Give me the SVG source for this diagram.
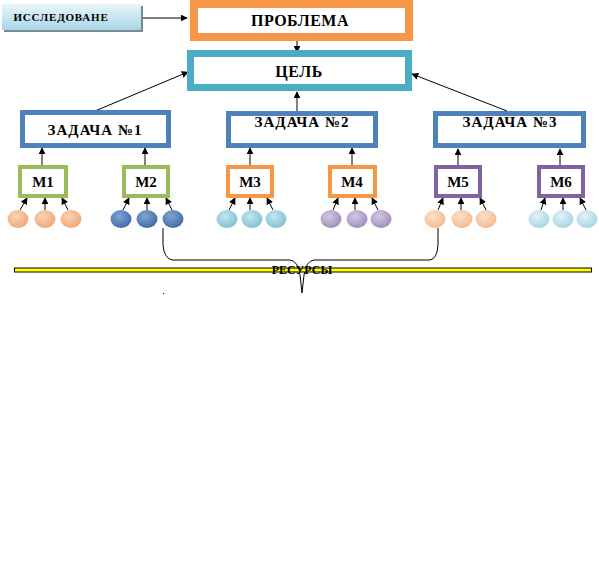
<svg xmlns="http://www.w3.org/2000/svg" width="599" height="571" viewBox="0 0 599 571">
<defs>
<style>
text{font-family:"Liberation Serif","Times New Roman",serif;font-weight:bold;fill:#000;text-anchor:middle}
.conn{stroke:#000;stroke-width:1;fill:none}
.arr{stroke:#000;stroke-width:1;fill:none;marker-end:url(#ah)}
.zad{fill:#fff;stroke:#4F81BD;stroke-width:5}
.mg{fill:#fff;stroke:#9BBB59;stroke-width:4}
.mo{fill:#fff;stroke:#F79646;stroke-width:4}
.mp{fill:#fff;stroke:#8064A2;stroke-width:4}
.big{font-size:16px;letter-spacing:0.5px}
.mid{font-size:15px;letter-spacing:1px}
.m{font-size:15px}
</style>
<marker id="ah" viewBox="0 0 10 10" refX="9" refY="5" markerWidth="7" markerHeight="7" orient="auto" markerUnits="userSpaceOnUse">
<path d="M0,0 L10,5 L0,10 z" fill="#000"/>
</marker>
<linearGradient id="gBox" x1="0" y1="0" x2="0" y2="1">
<stop offset="0" stop-color="#eaf6fb"/>
<stop offset="0.5" stop-color="#c9e6f1"/>
<stop offset="1" stop-color="#a9d5e6"/>
</linearGradient>
<radialGradient id="gPeach" cx="0.4" cy="0.35" r="0.7">
<stop offset="0" stop-color="#fbd3b2"/><stop offset="1" stop-color="#eea774"/>
</radialGradient>
<radialGradient id="gBlue" cx="0.4" cy="0.35" r="0.7">
<stop offset="0" stop-color="#7fa6d6"/><stop offset="1" stop-color="#3d68a3"/>
</radialGradient>
<radialGradient id="gCyan" cx="0.4" cy="0.35" r="0.7">
<stop offset="0" stop-color="#c2e6ef"/><stop offset="1" stop-color="#7fbfd2"/>
</radialGradient>
<radialGradient id="gLav" cx="0.4" cy="0.35" r="0.7">
<stop offset="0" stop-color="#d3c8e2"/><stop offset="1" stop-color="#9e8bbb"/>
</radialGradient>
<radialGradient id="gPeach2" cx="0.4" cy="0.35" r="0.7">
<stop offset="0" stop-color="#fde2cb"/><stop offset="1" stop-color="#f4b789"/>
</radialGradient>
<radialGradient id="gIce" cx="0.4" cy="0.35" r="0.7">
<stop offset="0" stop-color="#e3f3f8"/><stop offset="1" stop-color="#a3d3e1"/>
</radialGradient>
</defs>

<g id="connectors">
<line class="arr" x1="143" y1="18" x2="187" y2="18"/>
<line class="arr" x1="297" y1="40" x2="297" y2="52"/>
<line class="arr" x1="95" y1="111" x2="188" y2="72"/>
<line class="arr" x1="297" y1="111" x2="297" y2="92"/>
<line class="arr" x1="507" y1="111" x2="412" y2="74"/>
<line class="arr" x1="42" y1="165" x2="42" y2="148"/>
<line class="arr" x1="145" y1="165" x2="145" y2="148"/>
<line class="arr" x1="250" y1="165" x2="250" y2="148"/>
<line class="arr" x1="352" y1="165" x2="352" y2="148"/>
<line class="arr" x1="458" y1="165" x2="458" y2="149"/>
<line class="arr" x1="560" y1="165" x2="560" y2="149"/>
<line class="arr" x1="20" y1="210" x2="27" y2="198"/>
<line class="arr" x1="45" y1="210" x2="45" y2="198"/>
<line class="arr" x1="68" y1="210" x2="62" y2="198"/>
<line class="arr" x1="123" y1="210" x2="129" y2="198"/>
<line class="arr" x1="147" y1="210" x2="147" y2="198"/>
<line class="arr" x1="172" y1="210" x2="166" y2="198"/>
<line class="arr" x1="229" y1="210" x2="235" y2="198"/>
<line class="arr" x1="250" y1="210" x2="250" y2="198"/>
<line class="arr" x1="273" y1="210" x2="267" y2="198"/>
<line class="arr" x1="333" y1="210" x2="338" y2="198"/>
<line class="arr" x1="355" y1="210" x2="355" y2="198"/>
<line class="arr" x1="378" y1="210" x2="372" y2="198"/>
<line class="arr" x1="438" y1="210" x2="443" y2="198"/>
<line class="arr" x1="461" y1="210" x2="461" y2="198"/>
<line class="arr" x1="486" y1="210" x2="480" y2="198"/>
<line class="arr" x1="541" y1="210" x2="545" y2="198"/>
<line class="arr" x1="563" y1="210" x2="563" y2="198"/>
<line class="arr" x1="586" y1="210" x2="580" y2="198"/>
<path class="conn" d="M163,228 L163,245 Q164,258 172,260 L290,260 Q298,261 300,275 L302,293 L304,275 Q306,261 314,260 L430,260 Q437,259 438,245 L438,228"/>
</g>

<g id="issledovanie">
<rect x="4" y="6" width="139" height="26" fill="#7a8a90"/>
<rect x="2" y="4" width="139" height="26" fill="url(#gBox)"/>
<text x="61" y="21" style="font-size:11px;letter-spacing:0.8px">ИССЛЕДОВАНЕ</text>
</g>

<g id="problema">
<rect x="194" y="4" width="215" height="33" fill="#fff" stroke="#F79646" stroke-width="8"/>
<text class="big" x="300" y="26">ПРОБЛЕМА</text>
</g>

<g id="cel">
<rect x="190.5" y="53.5" width="218" height="34" fill="#fff" stroke="#4BACC6" stroke-width="7"/>
<text class="big" x="299" y="77">ЦЕЛЬ</text>
</g>

<g id="zadacha1">
<rect class="zad" x="22.5" y="112.5" width="146" height="33"/>
<text class="mid" x="95" y="135">ЗАДАЧА №1</text>
</g>
<g id="zadacha2">
<rect class="zad" x="228.5" y="113.5" width="147" height="32"/>
<text class="mid" x="302" y="127">ЗАДАЧА №2</text>
</g>
<g id="zadacha3">
<rect class="zad" x="435.5" y="113.5" width="148" height="32"/>
<text class="mid" x="510" y="127">ЗАДАЧА №3</text>
</g>

<g id="m1"><rect class="mg" x="20" y="167" width="46" height="29"/><text class="m" x="43" y="187">М1</text></g>
<g id="m2"><rect class="mg" x="124" y="167" width="44" height="29"/><text class="m" x="146" y="187">М2</text></g>
<g id="m3"><rect class="mo" x="228" y="167" width="44" height="29"/><text class="m" x="250" y="187">М3</text></g>
<g id="m4"><rect class="mo" x="330" y="167" width="45" height="29"/><text class="m" x="352" y="187">М4</text></g>
<g id="m5"><rect class="mp" x="436" y="167" width="44" height="29"/><text class="m" x="458" y="187">М5</text></g>
<g id="m6"><rect class="mp" x="539" y="167" width="44" height="29"/><text class="m" x="561" y="187">М6</text></g>

<g id="res-m1">
<ellipse cx="18" cy="219" rx="10.5" ry="9" fill="url(#gPeach)"/>
<ellipse cx="45" cy="219" rx="10.5" ry="9" fill="url(#gPeach)"/>
<ellipse cx="71" cy="219" rx="10.5" ry="9" fill="url(#gPeach)"/>
</g>
<g id="res-m2">
<ellipse cx="121" cy="219" rx="10.5" ry="9" fill="url(#gBlue)"/>
<ellipse cx="147" cy="219" rx="10.5" ry="9" fill="url(#gBlue)"/>
<ellipse cx="173" cy="219" rx="10.5" ry="9" fill="url(#gBlue)"/>
</g>
<g id="res-m3">
<ellipse cx="227" cy="219" rx="10.5" ry="9" fill="url(#gCyan)"/>
<ellipse cx="252" cy="219" rx="10.5" ry="9" fill="url(#gCyan)"/>
<ellipse cx="276" cy="219" rx="10.5" ry="9" fill="url(#gCyan)"/>
</g>
<g id="res-m4">
<ellipse cx="331" cy="219" rx="10.5" ry="9" fill="url(#gLav)"/>
<ellipse cx="357" cy="219" rx="10.5" ry="9" fill="url(#gLav)"/>
<ellipse cx="381" cy="219" rx="10.5" ry="9" fill="url(#gLav)"/>
</g>
<g id="res-m5">
<ellipse cx="435" cy="219" rx="10.5" ry="9" fill="url(#gPeach2)"/>
<ellipse cx="462" cy="219" rx="10.5" ry="9" fill="url(#gPeach2)"/>
<ellipse cx="486" cy="219" rx="10.5" ry="9" fill="url(#gPeach2)"/>
</g>
<g id="res-m6">
<ellipse cx="539" cy="219" rx="10.5" ry="9" fill="url(#gIce)"/>
<ellipse cx="563" cy="219" rx="10.5" ry="9" fill="url(#gIce)"/>
<ellipse cx="587" cy="219" rx="10.5" ry="9" fill="url(#gIce)"/>
</g>

<g id="resursy">
<rect x="14.5" y="268" width="577" height="4" fill="#ffff00" stroke="#000" stroke-width="1"/>
<text x="302" y="274" style="font-size:12px">РЕСУРСЫ</text>
</g>
<rect x="163" y="293" width="1" height="1" fill="#000"/>
</svg>
